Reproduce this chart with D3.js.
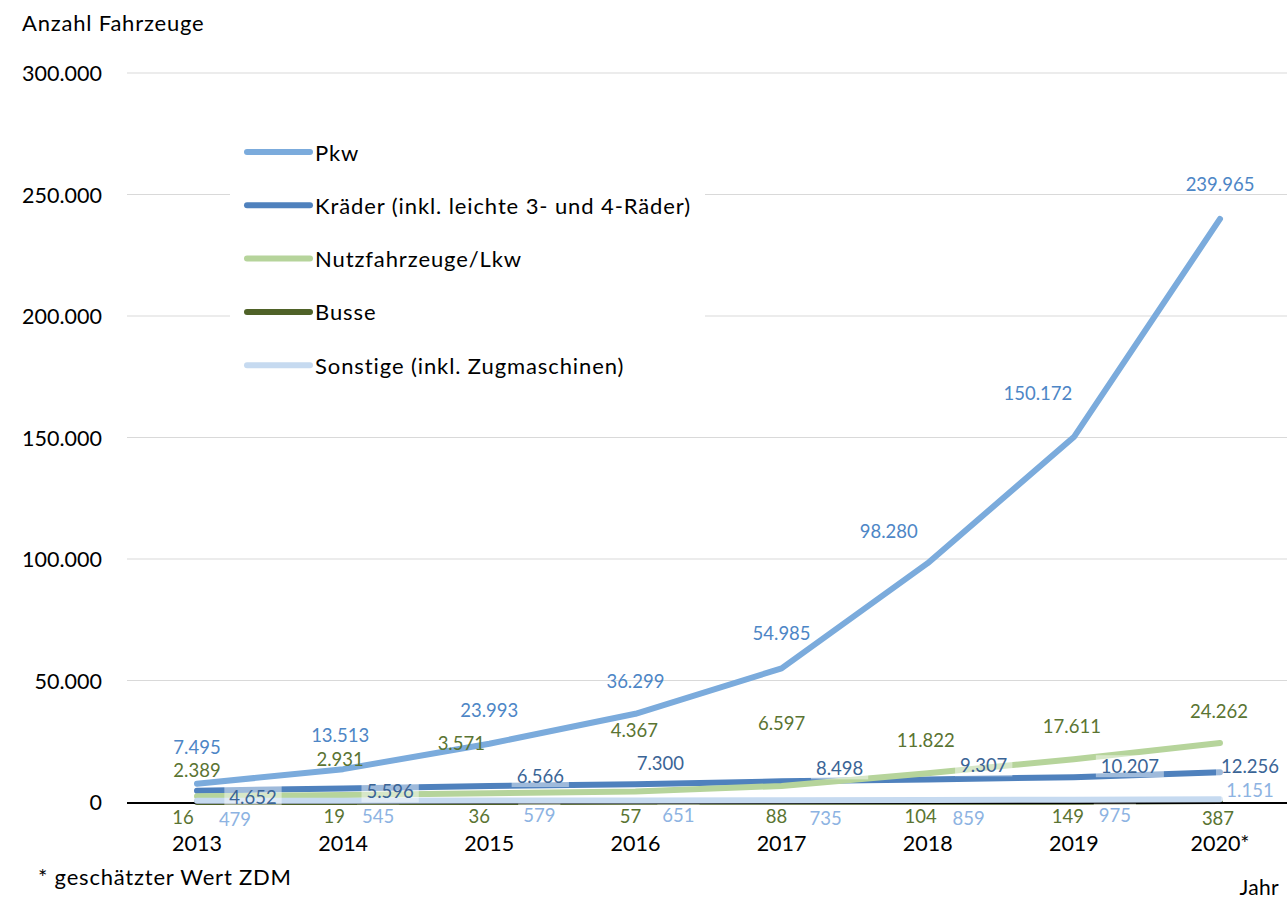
<!DOCTYPE html>
<html>
<head>
<meta charset="utf-8">
<script src="https://cdn.jsdelivr.net/npm/d3@7"></script>
<style>
  html, body { margin: 0; padding: 0; background: #fff; }
  svg { display: block; }
  text { font-family: Lato, "Open Sans", sans-serif; }
</style>
</head>
<body>
<div id="chart"></div>
<script>
// ---------- data ----------
const years = ["2013", "2014", "2015", "2016", "2017", "2018", "2019", "2020*"];
const pkw = [7495, 13513, 23993, 36299, 54985, 98280, 150172, 239965];
const kraeder = [4652, 5596, 6566, 7300, 8498, 9307, 10207, 12256];
const nutzfahrzeuge = [2389, 2931, 3571, 4367, 6597, 11822, 17611, 24262];
const busse = [16, 19, 36, 57, 88, 104, 149, 387];
const sonstige = [479, 545, 579, 651, 735, 859, 975, 1151];
const seriesNames = ["Pkw", "Kräder (inkl. leichte 3- und 4-Räder)", "Nutzfahrzeuge/Lkw", "Busse", "Sonstige (inkl. Zugmaschinen)"];
const yTicks = [0, 50000, 100000, 150000, 200000, 250000, 300000];
const yTickLabels = ["0", "50.000", "100.000", "150.000", "200.000", "250.000", "300.000"];

// ---------- layout / style (not data) ----------
const W = 1287, H = 899;
const plot = { left: 127, right: 1287, top: 73, bottom: 802 };
const styles = [
  { line: "#7BABDC", label: "#4D86C6" },
  { line: "#4F81BD", label: "#3A6496" },
  { line: "#B6D49B", label: "#5A7432" },
  { line: "#4F6228", label: "#5A7432" },
  { line: "#C6DAF0", label: "#8DB3E2" }
];
// label offsets (dx, dy) from each point, per series
const labelOffsets = [
  [[0,-37],[-3,-34],[0,-34],[0,-33],[0,-35],[-39,-32],[-36,-44],[0,-35]],
  [[56,6],[47,3],[51,-10],[25,-21],[58,-13],[56,-14],[56,-11],[30,-6]],
  [[0,-26],[-3,-36],[-28,-50],[-1,-61],[0,-63],[-2,-33],[-2,-33],[-1,-32]],
  [[-14,15],[-9,14],[-10,14],[-5,14],[-5,14],[-7,14],[-6,14],[-2,17]],
  [[38,18],[35,15],[50,14],[43,15],[44,18],[41,18],[41,15],[30,-9]]
];
const boxedLabels = [false, true, false, false, true];
const drawOrder = [3, -1, 0, 1, 2, 4]; // -1 = axis baseline

const series = [pkw, kraeder, nutzfahrzeuge, busse, sonstige];
const fmt = v => d3.format(",")(v).replace(/,/g, ".");

const svg = d3.select("#chart").append("svg").attr("width", W).attr("height", H);

const x = d3.scalePoint().domain(years).range([197, 1220]);
const y = d3.scaleLinear().domain([0, 300000]).range([plot.bottom, plot.top]);

// gridlines
svg.append("g").selectAll("line").data(yTicks.filter(t => t > 0)).join("line")
  .attr("x1", plot.left).attr("x2", plot.right)
  .attr("y1", d => y(d)).attr("y2", d => y(d))
  .attr("stroke", "#D9D9D9").attr("stroke-width", 1.2);

// y tick labels
svg.append("g").selectAll("text").data(yTicks).join("text")
  .attr("x", 102).attr("y", d => y(d))
  .attr("text-anchor", "end").attr("dominant-baseline", "central")
  .attr("font-size", 21.5).attr("fill", "#000")
  .text((d, i) => yTickLabels[i]);

// legend box (covers grid)
svg.append("rect").attr("x", 230).attr("y", 125).attr("width", 475).attr("height", 260).attr("fill", "#fff");

// lines + axis baseline
const lineGen = d3.line().x((d, i) => x(years[i])).y(d => y(d));
drawOrder.forEach(k => {
  if (k < 0) {
    svg.append("line")
      .attr("x1", plot.left).attr("x2", plot.right)
      .attr("y1", y(0) + 1).attr("y2", y(0) + 1)
      .attr("stroke", "#000").attr("stroke-width", 2);
    return;
  }
  svg.append("path").datum(series[k])
    .attr("d", lineGen)
    .attr("fill", "none")
    .attr("stroke", styles[k].line)
    .attr("stroke-width", 6)
    .attr("stroke-linecap", "round")
    .attr("stroke-linejoin", "round");
});

// data labels
series.forEach((s, k) => {
  const g = svg.append("g");
  s.forEach((v, i) => {
    const cx = x(years[i]) + labelOffsets[k][i][0];
    const cy = y(v) + labelOffsets[k][i][1];
    const t = g.append("text")
      .attr("x", cx).attr("y", cy)
      .attr("text-anchor", "middle").attr("dominant-baseline", "central")
      .attr("font-size", 18.5).attr("fill", styles[k].label)
      .text(fmt(v));
    if (boxedLabels[k]) {
      const bb = t.node().getBBox();
      g.insert("rect", "text")
        .attr("x", bb.x - 5).attr("y", bb.y)
        .attr("width", bb.width + 10).attr("height", bb.height)
        .attr("fill", "#fff").attr("fill-opacity", 0.45);
    }
  });
});

// x labels
svg.append("g").selectAll("text").data(years).join("text")
  .attr("x", d => x(d)).attr("y", 843)
  .attr("text-anchor", "middle").attr("dominant-baseline", "central")
  .attr("font-size", 21.5).attr("fill", "#000")
  .text(d => d);

// legend
const leg = svg.append("g");
seriesNames.forEach((name, k) => {
  const ly = 152 + k * 53.3;
  leg.append("line").attr("x1", 247).attr("x2", 310).attr("y1", ly).attr("y2", ly)
    .attr("stroke", styles[k].line).attr("stroke-width", 6).attr("stroke-linecap", "round");
  leg.append("text").attr("x", 315).attr("y", ly).attr("dominant-baseline", "central")
    .attr("font-size", 22).attr("letter-spacing", 0.9).attr("fill", "#000").text(name);
});

// titles / notes
svg.append("text").attr("x", 22).attr("y", 22).attr("dominant-baseline", "central")
  .attr("font-size", 22).attr("letter-spacing", 0.8).attr("fill", "#000").text("Anzahl Fahrzeuge");
svg.append("text").attr("x", 38).attr("y", 876).attr("dominant-baseline", "central")
  .attr("font-size", 22).attr("letter-spacing", 0.8).attr("fill", "#000").text("* geschätzter Wert ZDM");
svg.append("text").attr("x", 1279).attr("y", 886).attr("text-anchor", "end").attr("dominant-baseline", "central")
  .attr("font-size", 21).attr("letter-spacing", 0.3).attr("fill", "#000").text("Jahr");
</script>
</body>
</html>
